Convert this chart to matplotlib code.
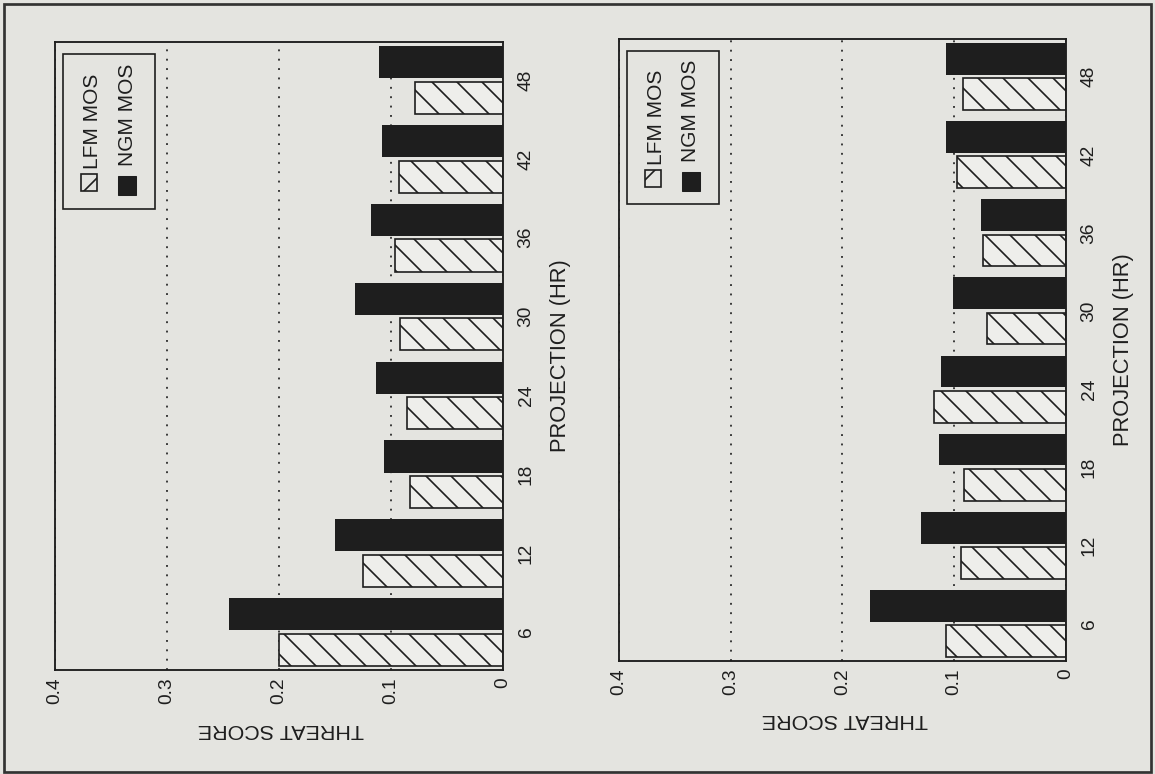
import matplotlib
matplotlib.use("Agg")
import matplotlib.pyplot as plt
from matplotlib.patches import Rectangle

plt.rcParams['font.family'] = ['Liberation Sans', 'DejaVu Sans']
plt.rcParams['hatch.linewidth'] = 0.8

# projection hours (categories) and threat scores
projection = [6, 12, 18, 24, 30, 36, 42, 48]
lfm_left = [0.200, 0.125, 0.083, 0.086, 0.092, 0.096, 0.093, 0.079]
ngm_left = [0.245, 0.150, 0.106, 0.113, 0.132, 0.118, 0.108, 0.111]
lfm_right = [0.107, 0.094, 0.091, 0.118, 0.071, 0.074, 0.0975, 0.0925]
ngm_right = [0.175, 0.130, 0.114, 0.112, 0.101, 0.076, 0.107, 0.1075]
score_ticks = [0, 0.1, 0.2, 0.3, 0.4]
score_labels = ['0', '0.1', '0.2', '0.3', '0.4']

paper = '#e4e4e0'
ink = '#1e1e1e'

fig = plt.figure(figsize=(7.7, 5.16), dpi=150, facecolor=paper)

panels = [
    (lfm_left, ngm_left, [0.0476, 0.1344, 0.3879, 0.8114]),
    (lfm_right, ngm_right, [0.5359, 0.146, 0.387, 0.8036]),
]

for lfm, ngm, rect in panels:
    ax = fig.add_axes(rect)
    ax.set_facecolor(paper)
    # chart is printed turned on its side: bars grow leftwards from 0
    ax.barh([p - 1.35 for p in projection], lfm, height=2.45, color='#eeeeeb',
            edgecolor=ink, hatch='\\\\', linewidth=0.8, zorder=2)
    ax.barh([p + 1.35 for p in projection], ngm, height=2.45, color=ink, zorder=2)
    ax.set_xlim(0.4, 0)
    ax.set_ylim(3.1, 50.9)

    ax.set_xticks(score_ticks)
    ax.set_xticklabels(score_labels, rotation=90)
    ax.set_yticks(projection)
    ax.set_yticklabels([str(p) for p in projection], rotation=90, va='center')
    ax.yaxis.tick_right()
    ax.tick_params(length=0, labelsize=9.2, labelcolor=ink)
    ax.tick_params(axis='x', pad=3.4)
    ax.tick_params(axis='y', pad=7)

    ax.xaxis.grid(True, linestyle=(0, (1, 4)), color='#333333', linewidth=0.9)
    ax.set_axisbelow(True)
    for s in ax.spines.values():
        s.set_linewidth(0.9)
        s.set_color(ink)

    # legend, drawn by hand because the text is rotated
    ax.add_patch(Rectangle((0.017, 0.734), 0.206, 0.247, transform=ax.transAxes,
                           fill=False, lw=0.8, ec=ink, zorder=3))
    ax.add_patch(Rectangle((0.058, 0.762), 0.036, 0.028, transform=ax.transAxes,
                           fc=paper, ec=ink, hatch='//', lw=0.8, zorder=3))
    ax.text(0.084, 0.797, 'LFM MOS', rotation=90, ha='center', va='bottom',
            fontsize=10, color=ink, transform=ax.transAxes)
    ax.add_patch(Rectangle((0.140, 0.756), 0.041, 0.030, transform=ax.transAxes,
                           fc=ink, ec=ink, lw=0.5, zorder=3))
    ax.text(0.161, 0.802, 'NGM MOS', rotation=90, ha='center', va='bottom',
            fontsize=10, color=ink, transform=ax.transAxes)

    ax.text(1.128, 0.5, 'PROJECTION (HR)', rotation=90, ha='center', va='center',
            fontsize=10.5, color=ink, transform=ax.transAxes)
    ax.text(0.505, -0.094, 'THREAT SCORE', rotation=180, ha='center', va='center',
            fontsize=10.3, color=ink, transform=ax.transAxes)

# page border
fig.add_artist(Rectangle((0.0035, 0.0026), 0.9931, 0.9922, transform=fig.transFigure,
                         fill=False, lw=1.3, ec='#333333'))

fig.savefig('out.png', dpi=150, facecolor=paper)
